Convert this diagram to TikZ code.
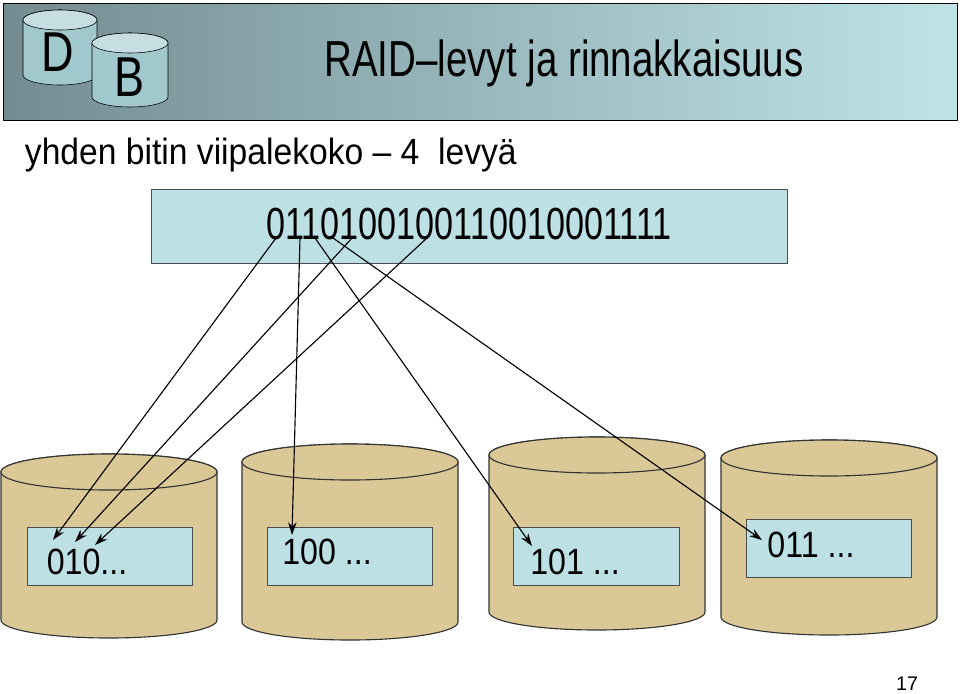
\documentclass[tikz,border=0pt]{standalone}
\usepackage{fontspec}
\setmainfont{Liberation Sans}
\usetikzlibrary{arrows.meta}
\begin{document}
\begin{tikzpicture}[x=0.025cm,y=-0.025cm,
  box/.style={draw=black!70,fill=lb},
  arr/.style={-{Stealth[length=9pt,width=6pt]},line width=0.8pt},
  disk/.style={draw=black!80,fill=tan1,line width=0.8pt}]
\definecolor{lb}{RGB}{189,224,229}
\definecolor{tan1}{RGB}{218,200,150}
\definecolor{hd1}{RGB}{115,140,145}
\definecolor{hd2}{RGB}{190,228,232}
\definecolor{ic}{RGB}{160,200,205}
\useasboundingbox (0,0) rectangle (960,693);
% header
\shade[left color=hd1,right color=hd2,draw=black] (3,3) rectangle (957,120);
\newcommand{\mycyl}[5]{% cx, top, bottom, rx, ry
  \fill[ic,draw=black] (#1-#4,#2) -- (#1-#4,#3) arc[start angle=180,end angle=360,x radius=#4,y radius=-#5] -- (#1+#4,#2) arc[start angle=0,end angle=180,x radius=#4,y radius=-#5] -- cycle;
  \draw[black,fill=ic!60] (#1,#2) ellipse[x radius=#4,y radius=#5];}
\mycyl{60}{20}{75}{37}{10}
\node (dl) at (58,52) {\scalebox{0.8}[1]{\fontsize{40}{40}\selectfont D}};
\mycyl{130}{43}{97}{38}{10}
\node (bl) at (130,77) {\scalebox{0.8}[1]{\fontsize{40}{40}\selectfont B}};
\node (title) at (564,63) {\scalebox{0.76}[1]{\fontsize{36}{36}\selectfont RAID--levyt ja rinnakkaisuus}};
\node[anchor=west] (sub) at (20,155) {\scalebox{0.92}[1]{\fontsize{26}{26}\selectfont yhden bitin viipalekoko -- 4\ \ levyä}};
\node[box,minimum width=636*0.025cm,minimum height=74*0.025cm] (bits) at (469,226) {};
\node (bt) at (469,224) {\scalebox{0.76}[1]{\fontsize{32}{32}\selectfont 0110100100110010001111}};
% disks
\newcommand{\mydisk}[5]{%
  \draw[disk] (#1-#4,#2) -- (#1-#4,#3) arc[start angle=180,end angle=360,x radius=#4,y radius=-#5] -- (#1+#4,#2) arc[start angle=0,end angle=180,x radius=#4,y radius=-#5] -- cycle;
  \draw[disk] (#1,#2) ellipse[x radius=#4,y radius=#5];}
\mydisk{109}{472}{620}{108}{18}
\mydisk{350}{462}{622}{108}{18}
\mydisk{597}{455}{612}{108}{18}
\mydisk{829}{458}{617}{108}{18}
\node[box,minimum width=165*0.025cm,minimum height=58*0.025cm] (d1) at (110,556) {};
\node at (87,562) {\scalebox{0.88}[1]{\fontsize{26}{26}\selectfont 010...}};
\node[box,minimum width=165*0.025cm,minimum height=58*0.025cm] (d2) at (350,556) {};
\node at (327,552) {\scalebox{0.88}[1]{\fontsize{26}{26}\selectfont 100 ...}};
\node[box,minimum width=166*0.025cm,minimum height=58*0.025cm] (d3) at (596,556) {};
\node at (575,562) {\scalebox{0.88}[1]{\fontsize{26}{26}\selectfont 101 ...}};
\node[box,minimum width=165*0.025cm,minimum height=58*0.025cm] (d4) at (829,548) {};
\node at (811,545) {\scalebox{0.88}[1]{\fontsize{26}{26}\selectfont 011 ...}};
% arrows
\coordinate (s1) at (276,238); \coordinate (e1) at (53,540);
\coordinate (s2) at (352,238); \coordinate (e2) at (75,542);
\coordinate (s3) at (427,238); \coordinate (e3) at (95,545);
\coordinate (s4) at (300,238); \coordinate (e4) at (292,535);
\coordinate (s5) at (315,238); \coordinate (e5) at (532,546);
\coordinate (s6) at (333,238); \coordinate (e6) at (762,540);
\foreach \i in {1,...,6} \draw[arr] (s\i) -- (e\i);
\node (pg) at (907,684) {\fontsize{14}{14}\selectfont 17};
\end{tikzpicture}
\end{document}
